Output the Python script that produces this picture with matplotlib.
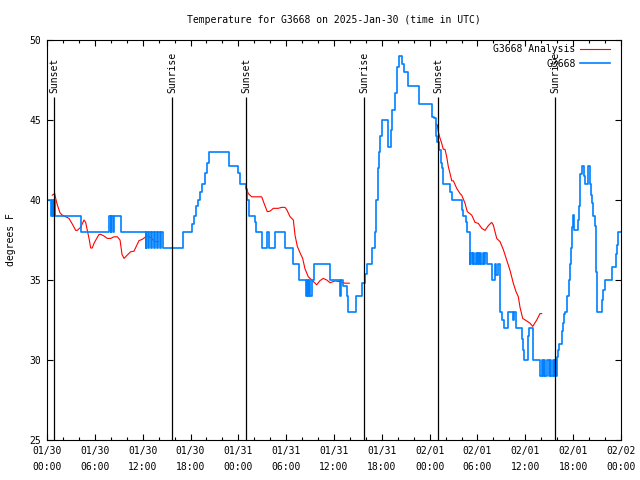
import numpy as np
import matplotlib
matplotlib.use("Agg")
import matplotlib.pyplot as plt
from matplotlib.ticker import MultipleLocator

plt.rcParams['font.family'] = ['DejaVu Sans Mono']
plt.rcParams['font.size'] = 7

# hours since 2025-01-30 00:00 UTC
tick_hours = np.arange(0, 73, 6)
tick_labels = ['01/30\n00:00', '01/30\n06:00', '01/30\n12:00', '01/30\n18:00',
               '01/31\n00:00', '01/31\n06:00', '01/31\n12:00', '01/31\n18:00',
               '02/01\n00:00', '02/01\n06:00', '02/01\n12:00', '02/01\n18:00',
               '02/02\n00:00']

event_hours = [0.92, 15.72, 25.0, 39.80, 49.08, 63.76]
event_names = ['Sunset', 'Sunrise', 'Sunset', 'Sunrise', 'Sunset', 'Sunrise']

# observed station temperature (change points, deg F)
obs_t = [0.00, 0.50, 0.63, 0.75, 0.88, 1.00, 4.26, 7.78, 7.97, 8.09, 8.22, 8.40, 9.22,
         12.36, 12.48, 12.67, 12.79, 13.05, 13.17, 13.42, 13.55, 13.80, 13.92, 14.17, 14.30, 14.49,
         17.06, 18.19, 18.38, 18.69, 18.94, 19.19, 19.44, 19.82, 20.07, 20.32, 22.77, 24.02, 24.21,
         24.90, 25.03, 25.28, 25.40, 26.03, 26.22, 26.98, 27.63, 27.81, 28.64, 29.85, 30.80, 30.90,
         31.55, 31.65, 32.53, 32.65, 32.78, 32.90, 33.03, 33.24, 33.43, 35.44, 36.73, 36.85, 37.19,
         37.57, 37.79, 38.70, 39.45, 39.89, 40.14, 40.77, 41.14, 41.33, 41.50, 41.65, 41.77, 41.96,
         42.81, 43.09, 43.31, 43.65, 43.87, 44.19, 44.49, 44.78, 45.32, 46.66, 48.29, 48.50, 48.76,
         48.96, 49.17, 49.39, 49.51, 49.71, 50.55, 50.77, 52.02, 52.22, 52.52, 52.72,
         53.00, 53.12, 53.25, 53.40, 53.57, 53.75, 53.88, 54.06, 54.19, 54.35, 54.50, 54.65, 54.81,
         54.94, 55.13, 55.86, 56.20, 56.38, 56.51, 56.82, 57.03, 57.32, 57.85, 58.48, 58.60, 58.78,
         59.54, 59.70, 59.83, 60.30, 60.46, 60.92, 61.90, 62.05, 62.22, 62.34, 62.47, 62.78, 62.97,
         63.10, 63.28, 63.41, 63.54, 63.67, 63.79, 63.94, 64.04, 64.26, 64.56, 64.76, 64.89, 64.98,
         65.27, 65.44, 65.60, 65.73, 65.82, 66.02, 66.15, 66.57, 66.73, 66.82, 66.86, 67.07, 67.40,
         67.49, 67.82, 68.11, 68.24, 68.40, 68.55, 68.74, 68.83, 68.89, 68.95, 69.03, 69.66, 69.79,
         69.99, 70.86, 71.33, 71.50, 71.66, 72.00]
obs_f = [40, 39, 40, 39, 40, 39, 38, 39, 38, 39, 38, 39, 38,
         37, 38, 37, 38, 37, 38, 37, 38, 37, 38, 37, 38, 37,
         38, 38.5, 39, 39.6, 40, 40.5, 41, 41.7, 42.3, 43, 42.1, 41.7, 41,
         40.7, 40, 39.6, 39, 38.6, 38, 37, 38, 37, 38, 37, 36.3, 36,
         35.4, 35, 34, 35, 34, 35, 34, 35, 36, 35, 34, 35, 34.6,
         34, 33, 34, 34.8, 35.4, 36, 37, 38, 40, 42, 43, 44, 45,
         43.3, 44.4, 45.6, 46.7, 48.3, 49, 48.5, 48, 47.1, 46, 45.2, 45.1, 44,
         43.6, 43.1, 42.3, 42, 41, 40.5, 40, 39.4, 39, 38.6, 38,
         36, 36.7, 36, 36.7, 36, 36.7, 36, 36.7, 36, 36.7, 36, 36.7, 36,
         36.7, 36, 35, 36, 35.3, 36, 33, 32.5, 32, 33, 32.5, 33, 32,
         31.3, 30.6, 30, 31.5, 32, 30, 29, 30, 29, 30, 29, 30, 29,
         30, 29, 30, 29, 30, 29, 30.2, 30.6, 31, 31.8, 32.3, 32.9, 33,
         34, 35, 36, 37, 38.3, 39.06, 38.1, 38.75, 39.6, 40.6, 41.6, 42.1, 41.5,
         41, 42.1, 41, 40.3, 39.8, 39, 38.4, 37.1, 35.5, 34.3, 33, 33.75, 34.4,
         35, 35.8, 36.6, 37.2, 38, 38]

# analysis temperature (gaps where no analysis)
ana_t = [0.66, 0.97, 1.09, 1.29, 1.63, 1.92, 2.35, 2.76, 3.17, 3.60, 3.80, 4.23, 4.64, 4.85,
         5.06, 5.27, 5.48, 5.68, 5.90, 6.52, 6.74, 7.15, 7.56, 7.99, 8.40, 8.82, 9.16, 9.41,
         9.66, 10.07, 10.50, 10.91, 11.54, 11.95, 12.38, 12.71, 13.13, 13.55, 13.96, 14.0,
         24.96, 25.25, 25.68, 26.93, 27.22, 27.63, 27.97, 28.39, 29.01, 29.44, 29.85, 30.07,
         30.48, 30.90, 31.11, 31.40, 31.74, 32.07, 32.36, 32.78, 33.20, 33.83, 34.24, 34.66,
         35.09, 35.50, 36.13, 36.75, 37.38, 37.92, 38.0,
         48.80, 48.96, 49.08, 49.30, 49.51, 49.71, 49.92, 50.14, 50.34, 50.55, 50.77, 50.97,
         51.39, 51.81, 52.02, 52.43, 52.72, 53.27, 53.69, 54.10, 54.53, 54.94, 55.36, 55.78,
         55.98, 56.41, 56.82, 57.24, 57.66, 58.08, 58.49, 58.83, 59.12, 59.33, 59.67, 60.17,
         60.59, 60.93, 61.43, 61.84, 62.05]
ana_f = [40.3, 40.4, 40.1, 39.7, 39.2, 39.05, 38.95, 38.85, 38.5, 38.1, 38.1, 38.3, 38.75, 38.6,
         38.1, 37.6, 37.0, 37.0, 37.3, 37.85, 37.85, 37.75, 37.6, 37.6, 37.7, 37.7, 37.5, 36.6,
         36.35, 36.56, 36.77, 36.8, 37.46, 37.54, 37.7, 37.75, 37.6, 37.4, 37.4, np.nan,
         40.8, 40.4, 40.2, 40.2, 39.8, 39.27, 39.3, 39.48, 39.48, 39.54, 39.54, 39.4,
         38.96, 38.75, 37.8, 37.1, 36.7, 36.35, 35.7, 35.2, 35.0, 34.7, 34.96, 35.1,
         35.0, 34.83, 34.94, 34.9, 34.8, 34.8, np.nan,
         44.75, 44.7, 44.27, 43.86, 43.54, 43.17, 43.17, 42.7, 42.08, 41.67, 41.2, 41.2,
         40.73, 40.4, 40.3, 39.8, 39.27, 39.06, 38.6, 38.54, 38.23, 38.1, 38.4, 38.6,
         38.44, 37.6, 37.4, 36.9, 36.25, 35.6, 34.8, 34.27, 33.96, 33.3, 32.6, 32.44,
         32.3, 32.1, 32.5, 32.9, 32.9]

fig = plt.figure(figsize=(6.4, 4.8), dpi=100)
ax = fig.add_axes([47/640, 40/480, 574/640, 400/480])

ax.plot(ana_t, ana_f, color='#ff0000', linewidth=0.8, label='G3668 Analysis')
ax.plot(obs_t, obs_f, color='#0080ff', linewidth=1.2, drawstyle='steps-post', label='G3668')

ax.vlines(event_hours, 25, 46.45, color='black', linewidth=0.9)
for t, name in zip(event_hours, event_names):
    ax.text(t, 46.7, name, rotation=90, ha='center', va='bottom')

ax.set_xlim(0, 72)
ax.set_ylim(25, 50)
ax.set_xticks(tick_hours)
ax.set_xticklabels(tick_labels, linespacing=1.75)
ax.xaxis.set_minor_locator(MultipleLocator(2))
ax.set_yticks(np.arange(25, 51, 5))
ax.tick_params(which='both', direction='in', top=True, right=True, width=0.8)
ax.tick_params(which='major', length=4.5, pad=4)
ax.tick_params(which='minor', length=2.5)
for s in ax.spines.values():
    s.set_linewidth(0.8)

ax.set_title('Temperature for G3668 on 2025-Jan-30 (time in UTC)', pad=12, fontsize=7)
ax.set_ylabel('degrees F', labelpad=10)

ax.legend(loc='upper right', bbox_to_anchor=(0.985, 0.995), frameon=False, markerfirst=False,
          handlelength=3.1, handletextpad=0.5, labelspacing=0.5, borderpad=0.2, borderaxespad=0.0)

plt.savefig('out.png', dpi=100)
